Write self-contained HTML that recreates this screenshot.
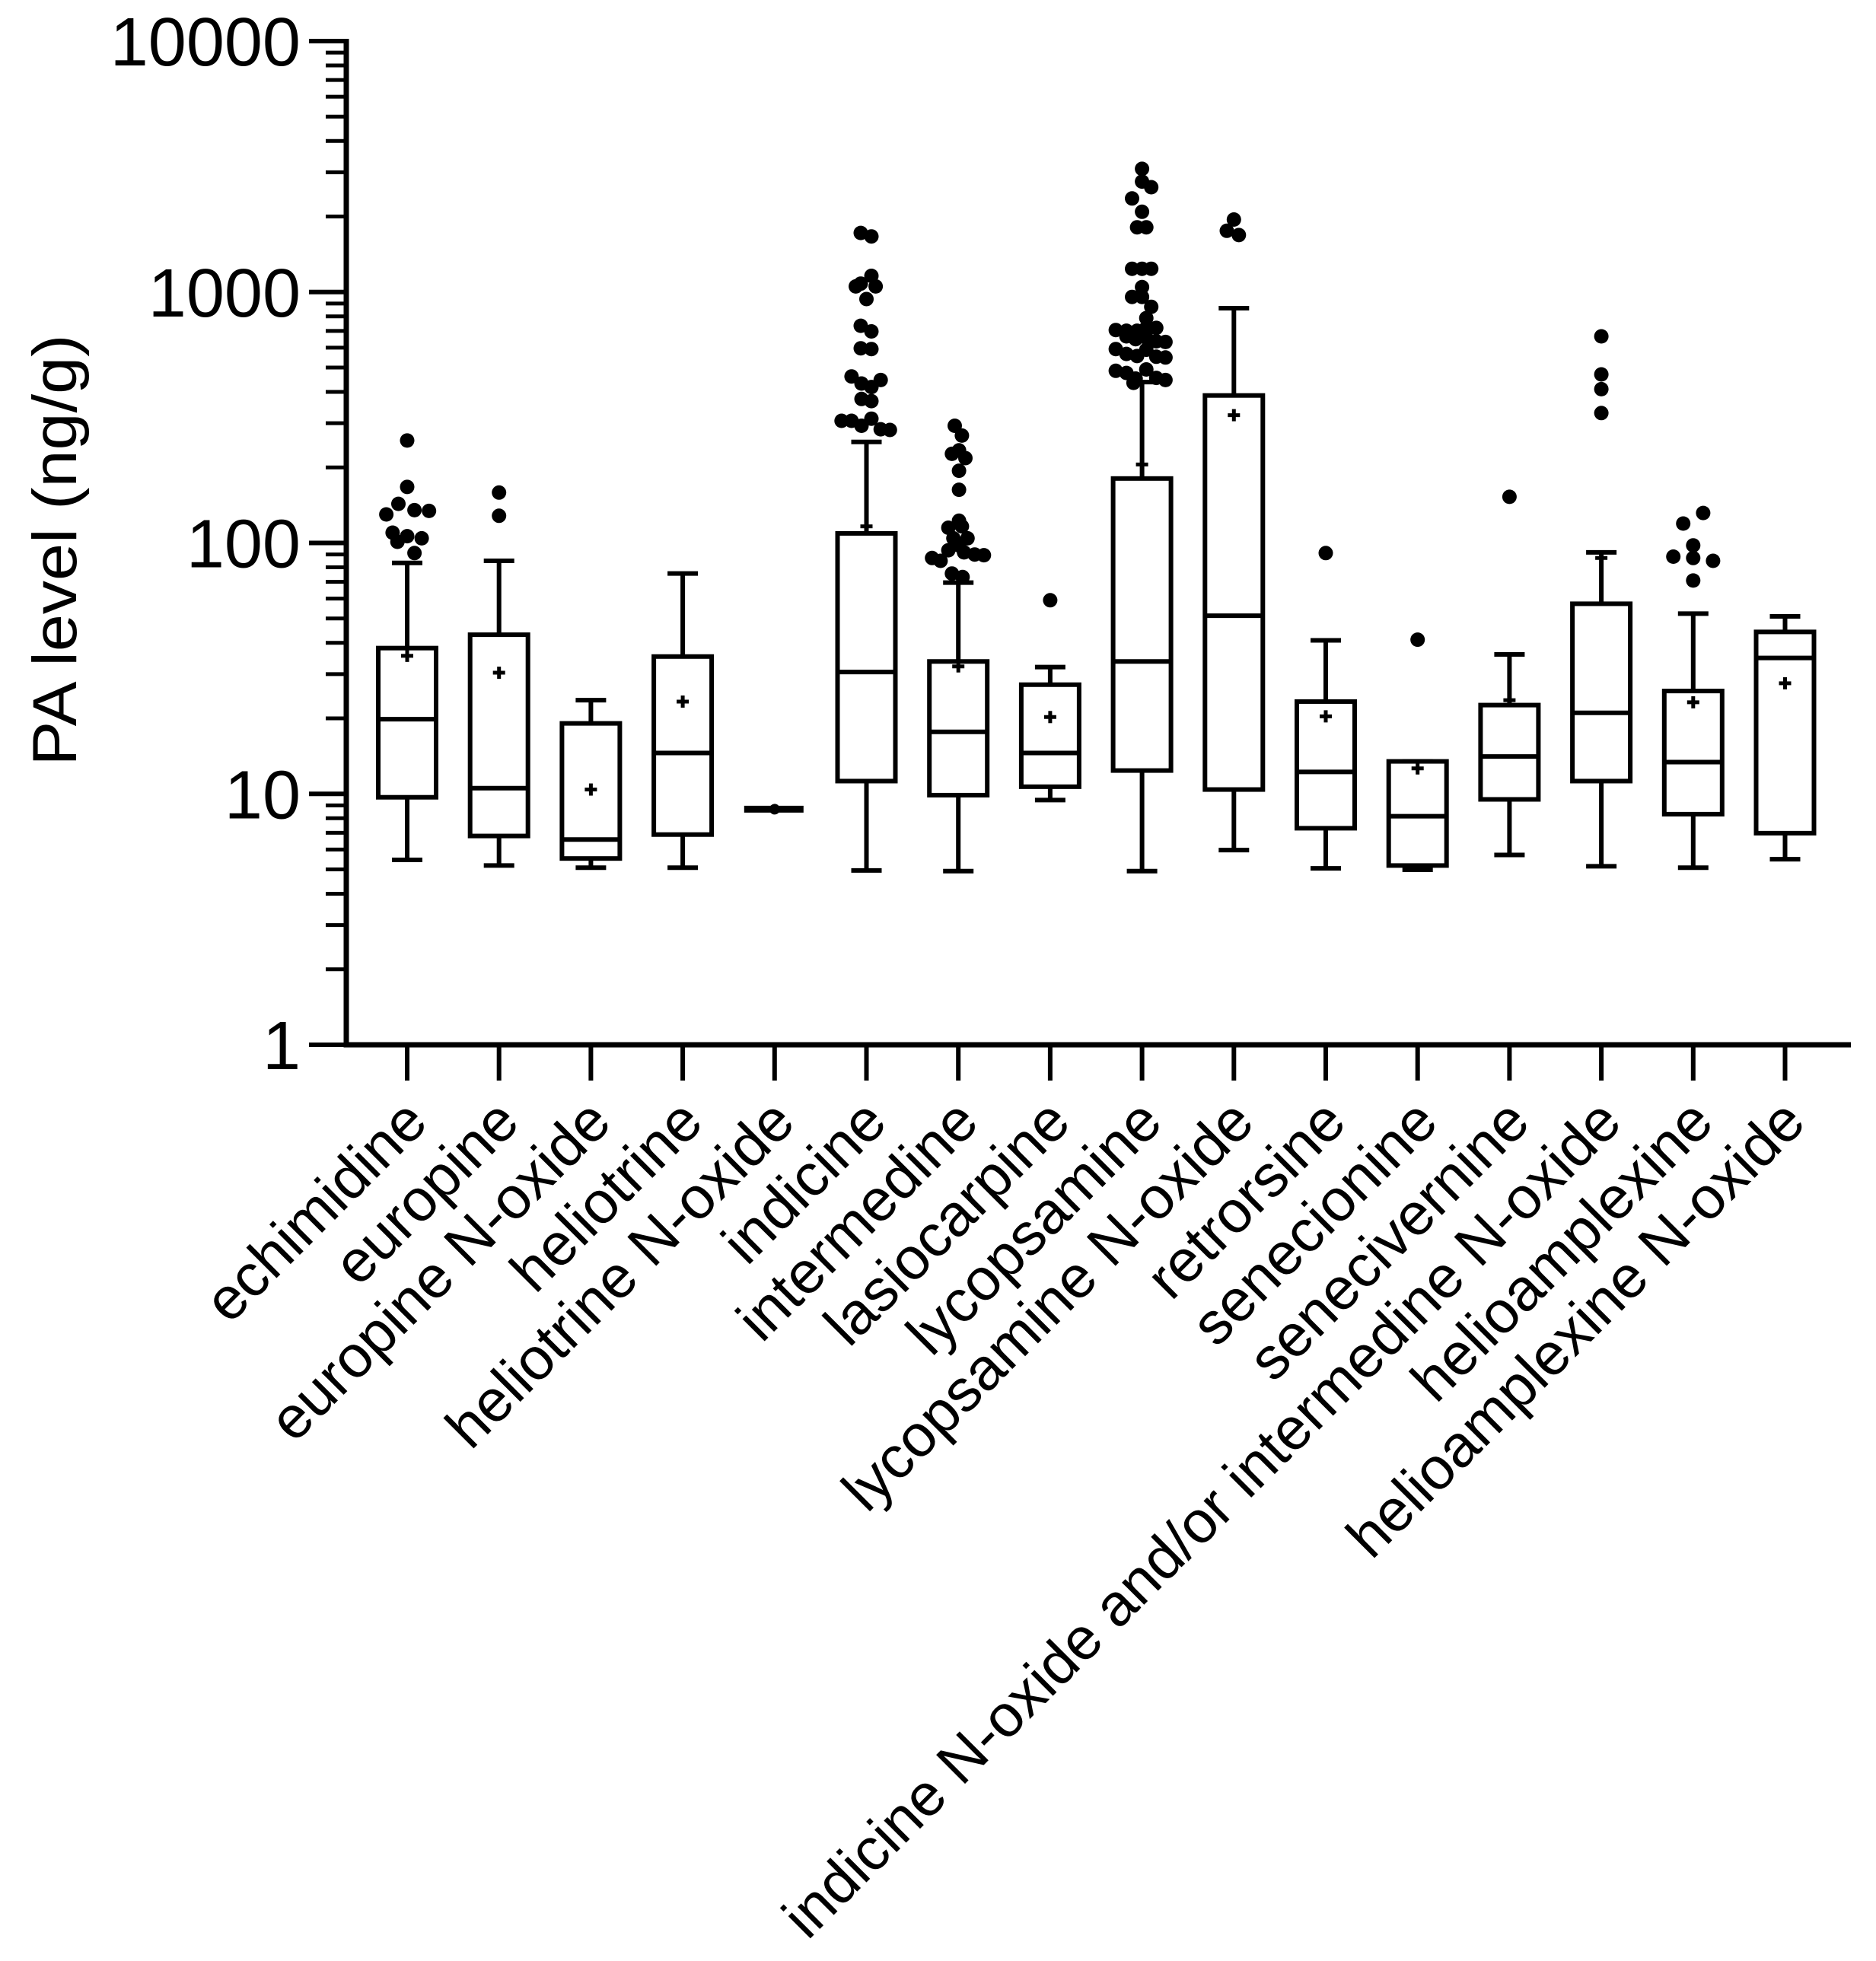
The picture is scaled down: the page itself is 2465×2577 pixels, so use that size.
<!DOCTYPE html>
<html><head><meta charset="utf-8">
<style>
html,body{margin:0;padding:0;background:#fff;}
svg{display:block;}
text{font-family:"Liberation Sans",sans-serif;fill:#000;}
</style></head>
<body>
<svg id="s" width="2465" height="2577" xmlns="http://www.w3.org/2000/svg"></svg>
<script>
const S=document.getElementById('s');
let h='';
const AX=455, Y0=1373, TOP=54, DEC=(Y0-TOP)/4;
function L(x1,y1,x2,y2,w){h+=`<line x1="${x1}" y1="${y1}" x2="${x2}" y2="${y2}" stroke="#000" stroke-width="${w}"/>`;}
L(AX,TOP-3,AX,Y0+3.5,7);
L(AX-3.5,Y0,2432,Y0,7);
for(let d=0;d<=4;d++){
  const y=Y0-d*DEC;
  L(406,y,AX,y,6);
  h+=`<text x="395" y="${y+32}" font-size="90" text-anchor="end">${Math.pow(10,d)}</text>`;
  if(d<4) for(let k=2;k<=9;k++){const yy=y-Math.log10(k)*DEC;L(428,yy,AX,yy,5);}
}
h+=`<text transform="translate(100,723) rotate(-90)" x="0" y="0" font-size="82" text-anchor="middle" textLength="567" lengthAdjust="spacingAndGlyphs">PA level  (ng/g)</text>`;
const names=["echimidine","europine","europine N-oxide","heliotrine","heliotrine N-oxide","indicine","intermedine","lasiocarpine","lycopsamine","lycopsamine N-oxide","retrorsine","senecionine","senecivernine","indicine N-oxide and/or intermedine N-oxide","helioamplexine","helioamplexine N-oxide"];
const cx=i=>535+120.7*i;
const Y=dy=>dy/1.0814;
names.forEach((n,i)=>{
  const x=cx(i);
  L(x,Y0,x,1420,6);
  h+=`<text transform="translate(${x+30},${1478}) rotate(-45)" font-size="78" text-anchor="end">${n}</text>`;
});
const D=[
[800,921,1022,1133,1222,932],
[797,902,1120,1188,1230,956],
[995,1028,1193,1220,1233,1122],
[815,933,1070,1186,1233,997],
null,
[628,758,955,1110,1237,748],
[828,940,1040,1130,1238,947],
[948,973,1070,1118,1137,1019],
[543,680,940,1095,1238,660],
[438,562,875,1122,1208,590],
[910,997,1097,1177,1234,1018],
[1082,1082,1160,1230,1236,1092],
[930,1002,1075,1136,1215,995],
[785,858,1013,1110,1231,793],
[872,982,1083,1157,1233,998],
[876,898,935,1184,1221,971]];
const HW=38, CW=20, W=6;
D.forEach((d,i)=>{
  const x=cx(i);
  if(!d){const y=Y(1150); L(x-40,y,x+38,y,9); h+=`<circle cx="${x}" cy="${y}" r="7" fill="#000"/>`; return;}
  const [wt,q3,md,q1,wb,mn]=d.map(Y);
  L(x,wt,x,q3,W); L(x,q1,x,wb,W);
  L(x-CW,wt,x+CW,wt,W); L(x-CW,wb,x+CW,wb,W);
  h+=`<rect x="${x-HW}" y="${q3}" width="${2*HW}" height="${q1-q3}" fill="none" stroke="#000" stroke-width="${W}"/>`;
  L(x-HW,md,x+HW,md,W);
  L(x-8,mn,x+8,mn,5); L(x,mn-8,x,mn+8,5);
});
const O=[
[0,1,840,[[840,626],[840,692],[822,716],[855,725],[885,726],[797,731],[810,757],[840,762],[870,765],[820,770],[855,786]]],
[1,1,1030,[[1030,700],[1030,733]]],
[5,2,148,[[140,331],[155,336],[155,392],[133,407],[161,407],[140,403],[148,425],[140,463],[155,471],[140,495],[155,496],[127,535],[141,545],[155,550],[168,540],[141,567],[155,570],[113,598],[127,598],[141,605],[155,595],[168,610],[181,611]]],
[6,2,277,[[272,605],[282,619],[268,645],[278,640],[287,651],[278,669],[278,696],[278,740],[263,750],[282,748],[270,765],[290,765],[278,775],[263,782],[240,793],[252,797],[285,785],[300,788],[313,789],[268,815],[283,820]]],
[7,2,407,[[407,853]]],
[8,2,537,[[537,240],[537,258],[550,266],[523,282],[537,301],[530,323],[543,323],[523,382],[537,382],[550,382],[537,408],[523,422],[537,422],[550,436],[543,452],[500,469],[515,470],[530,470],[543,466],[557,466],[515,478],[528,482],[543,480],[557,485],[570,486],[500,496],[515,503],[530,506],[543,497],[557,507],[570,508],[500,527],[515,530],[528,538],[543,525],[557,537],[570,540],[525,544]]],
[9,2,665,[[665,312],[655,328],[672,334]]],
[10,2,794,[[794,786]]],
[11,2,923,[[923,909]]],
[12,2,1052,[[1052,706]]],
[13,2,1182,[[1182,478],[1182,532],[1182,553],[1182,587]]],
[14,2,1311,[[1297,744],[1325,729],[1311,775],[1283,791],[1311,793],[1339,797],[1311,825]]]
];
O.forEach(([c,z,cd,pts])=>{
  const sx=z==1?1.568:1.071;
  pts.forEach(([dx,dy])=>{
    h+=`<circle cx="${(cx(c)+(dx-cd)/sx).toFixed(1)}" cy="${Y(dy).toFixed(1)}" r="9.5" fill="#000"/>`;
  });
});
S.innerHTML=h;
</script>
</body></html>
